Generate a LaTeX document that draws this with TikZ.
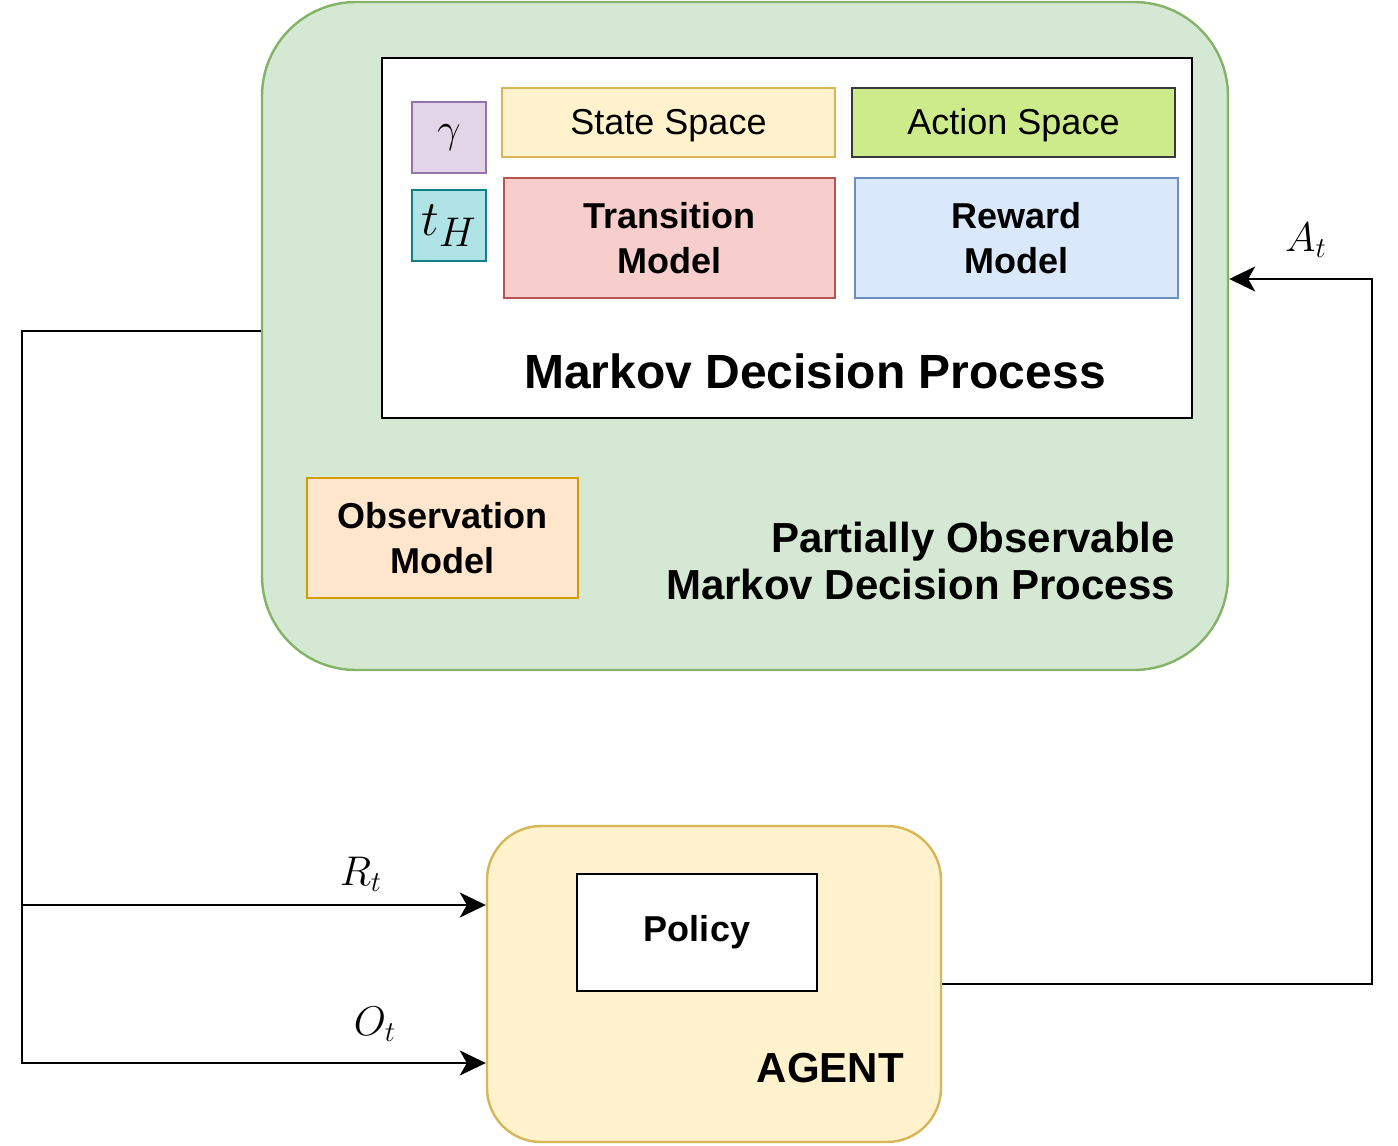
\documentclass[tikz,border=0pt]{standalone}
\usepackage{fontspec}
\setmainfont{Liberation Sans}
\usetikzlibrary{arrows.meta,positioning}

\definecolor{pomdpfill}{HTML}{D5E8D4}
\definecolor{pomdpline}{HTML}{82B366}
\definecolor{yelfill}{HTML}{FFF2CC}
\definecolor{yelline}{HTML}{D6B656}
\definecolor{grnfill}{HTML}{CDEB8B}
\definecolor{grnline}{HTML}{36393D}
\definecolor{redfill}{HTML}{F8CECC}
\definecolor{redline}{HTML}{B85450}
\definecolor{bluefill}{HTML}{DAE8FC}
\definecolor{blueline}{HTML}{6C8EBF}
\definecolor{purfill}{HTML}{E1D5E7}
\definecolor{purline}{HTML}{9673A6}
\definecolor{tealfill}{HTML}{B0E3E6}
\definecolor{tealline}{HTML}{0E8088}
\definecolor{orgfill}{HTML}{FFE6CC}
\definecolor{orgline}{HTML}{D79B00}

\begin{document}
\begin{tikzpicture}[
x=0.5pt, y=-0.5pt,
box/.style={
draw,
line width=1.2pt,
inner sep=0pt,
align=center,
font=\fontsize{18}{22.5}\selectfont
},
bold/.style={font=\fontsize{18}{22.5}\selectfont\bfseries},
space/.style={box, minimum height=34.5pt, text height=13pt, text depth=1.5pt},
param/.style={box, minimum width=37pt, minimum height=35.5pt},
flow/.style={-{Stealth[length=13pt,width=12.5pt,inset=3.5pt]}, line width=1.2pt},
lbl/.style={font=\fontsize{20.74}{24}\selectfont}
]
\useasboundingbox (0,0) rectangle (1398,1146);

% environment (POMDP)
\node[box, fill=pomdpfill, draw=pomdpline, rounded corners=47pt,
minimum width=483pt, minimum height=334pt] (pomdp) at (745,336) {};
\node[box, fill=white, draw=black, minimum width=405pt, minimum height=180pt] (mdp) at (787,238) {};

\node[param, fill=purfill, draw=purline, font=\fontsize{20.74}{24}\selectfont] (gamma) at (449,137.5) {$\gamma$};
\node[param, fill=tealfill, draw=tealline, font=\fontsize{24.88}{28}\selectfont] (horizon) at (449,225.5) {$t_H$};

\node[space, fill=yelfill, draw=yelline, minimum width=166.5pt] (states) at (668.5,122.5) {State Space};
\node[space, fill=grnfill, draw=grnline, minimum width=161.5pt] (actions) at (1013.5,122.5) {Action Space};
\node[box, bold, fill=redfill, draw=redline, minimum width=165.5pt, minimum height=60pt] (transition) at (669.5,238) {Transition\\Model};
\node[box, bold, fill=bluefill, draw=blueline, minimum width=161.5pt, minimum height=60pt] (reward) at (1016.5,238) {Reward\\Model};

\node[font=\fontsize{24}{28}\selectfont\bfseries] (mdplabel) at (815,371) {Markov Decision Process};

\node[box, bold, fill=orgfill, draw=orgline, minimum width=135.5pt, minimum height=60pt] (observation) at (442.5,538) {Observation\\Model};
\node[anchor=east, align=right, font=\fontsize{21}{23.5}\selectfont\bfseries] (pomdplabel) at (1182,561) {Partially Observable\\Markov Decision Process};

% agent
\node[box, fill=yelfill, draw=yelline, rounded corners=27pt,
minimum width=227pt, minimum height=158pt] (agent) at (714,984) {};
\node[box, bold, fill=white, draw=black, minimum width=120pt, minimum height=58.5pt] (policy) at (697,932.5) {Policy};
\node[anchor=east, font=\fontsize{21}{24}\selectfont\bfseries] (agentlabel) at (911,1068) {AGENT};

% signals
\coordinate (envout) at ([yshift=2.5pt]pomdp.west);
\coordinate (obsline) at (22,1063);
\coordinate (rewline) at (22,905);
\coordinate (actline) at (1372,279);
\draw[flow] (envout) -| (obsline) -- (agent.west |- obsline);
\draw[flow] (rewline) -- (agent.west |- rewline);
\draw[flow] (agent.east) -| (actline) -- (pomdp.east |- actline);

\node[lbl] (rt) at (361,874) {$R_t$};
\node[lbl] (ot) at (375,1024) {$O_t$};
\node[lbl] (at) at (1306,240) {$A_t$};

\end{tikzpicture}
\end{document}
